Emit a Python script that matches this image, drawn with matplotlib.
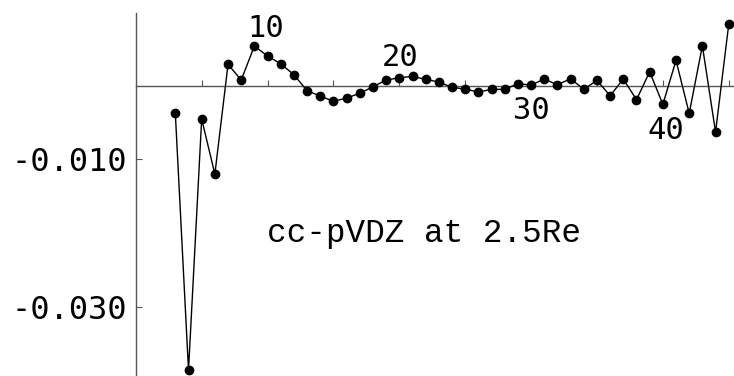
import matplotlib
matplotlib.use("Agg")
import matplotlib.pyplot as plt

# data
n = list(range(3, 46))
err = [-0.00376, -0.0386, -0.00453, -0.0120, 0.00289, 0.00076, 0.00537, 0.00402,
       0.00297, 0.00148, -0.00069, -0.00141, -0.00213, -0.00168, -0.00104, -0.00015,
       0.00076, 0.00107, 0.00126, 0.00085, 0.00049, -0.00023, -0.00046, -0.00087,
       -0.0005, -0.0005, 0.00026, 0.00008, 0.0009, 0.00012, 0.00094, -0.0005,
       0.00072, -0.00137, 0.0009, -0.00191, 0.00189, -0.00254, 0.00343, -0.00376,
       0.00541, -0.0063, 0.00832]

yticks = [-0.01, -0.03]
ytick_labels = ["-0.010", "-0.030"]
xticks = list(range(5, 46, 5))
xlabels = ["10", "20", "30", "40"]
xlabel_pos = [(9.88, 0.00782), (20.04, 0.00388), (30.0, -0.00331), (40.2, -0.00602)]
note = "cc-pVDZ at 2.5Re"

fig = plt.figure(figsize=(7.34, 3.76), dpi=100)
ax = fig.add_axes([135.8 / 734, 0, 1 - 135.8 / 734, (376 - 12.7) / 376])
ax.set_xlim(0, 45.4)
ax.set_ylim(-0.0394, 0.0099)

axcol = "#555555"
for s in ["top", "right"]:
    ax.spines[s].set_visible(False)
ax.spines["left"].set_color(axcol)
ax.spines["bottom"].set_color(axcol)
ax.spines["bottom"].set_position(("data", 0))
ax.spines["left"].set_linewidth(1.0)
ax.spines["bottom"].set_linewidth(1.0)

ax.set_yticks(yticks)
ax.set_yticklabels(ytick_labels, family="DejaVu Sans Mono", fontsize=23)
ax.tick_params(axis="y", direction="in", length=4, color=axcol, pad=6)
ax.set_xticks(xticks)
ax.set_xticklabels([])
ax.tick_params(axis="x", direction="in", length=4, color=axcol)

ax.plot(n, err, color="black", lw=1.0, marker="o", ms=6, zorder=3, clip_on=False)

for lab, (px, py) in zip(xlabels, xlabel_pos):
    ax.text(px, py, lab, ha="center", va="center", family="DejaVu Sans Mono", fontsize=22)

ax.text(21.9, -0.02122, note, ha="center", va="baseline", family="Liberation Mono", fontsize=23.5)

fig.savefig("out.png", dpi=100)
